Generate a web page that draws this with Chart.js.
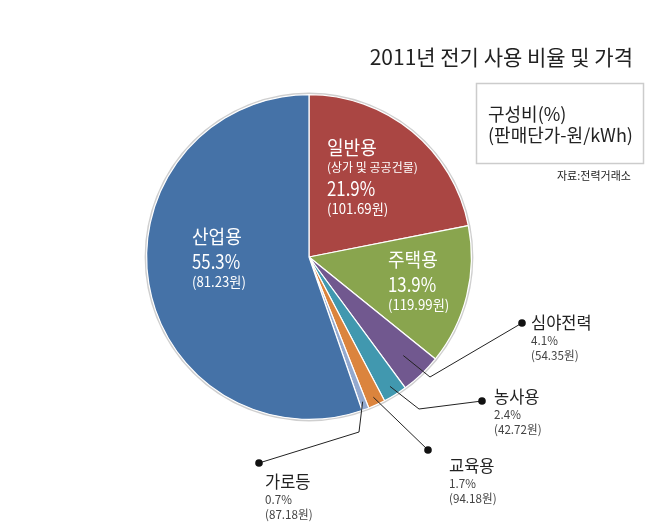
<!DOCTYPE html>
<html>
<head>
<meta charset="utf-8">
<script src="https://cdn.jsdelivr.net/npm/chart.js@4.4.0/dist/chart.umd.min.js"></script>
<style>
    html, body { margin: 0; padding: 0; background: #fff; }
    #wrap { width: 650px; height: 528px; }
</style>
</head>
<body>
<div id="wrap"><canvas id="pie" width="650" height="528"></canvas></div>
<script>
// Data
const categories = ['일반용', '주택용', '심야전력', '농사용', '교육용', '가로등', '산업용'];
const notes = ['(상가 및 공공건물)', '', '', '', '', '', ''];
const shares = [21.9, 13.9, 4.1, 2.4, 1.7, 0.7, 55.3];
const prices = [101.69, 119.99, 54.35, 42.72, 94.18, 87.18, 81.23];
const colors = ['#AA4643', '#89A54E', '#71588F', '#4198AF', '#DB843D', '#93A9CF', '#4572A7'];

const FONT = '"Noto Sans CJK KR", "Noto Sans", sans-serif';

// label layout: inside labels (white) and leader-line labels
const inside = {
    0: { x: 327, y: 148 },
    1: { x: 388, y: 260 },
    6: { x: 192, y: 237 }
};
const outside = {
    2: { dot: [522, 323], elbow: [430, 377], rf: 0.84, tx: 531, ty: 323 },
    3: { dot: [482, 401], elbow: [419, 409], rf: 0.94, tx: 494, ty: 397 },
    4: { dot: [428, 450], elbow: null, rf: 0.95, tx: 449, ty: 466 },
    5: { dot: [259, 463], elbow: [359, 432], rf: 0.95, tx: 265, ty: 482 }
};

function txt(ctx, s, x, y, size, color, sx, align) {
    ctx.save();
    ctx.font = size + 'px ' + FONT;
    ctx.fillStyle = color;
    ctx.textBaseline = 'middle';
    ctx.textAlign = align || 'left';
    ctx.translate(x, y);
    ctx.scale(sx || 1, 1);
    ctx.fillText(s, 0, 0);
    ctx.restore();
}

const labelPlugin = {
    id: 'labels',
    beforeDatasetsDraw(chart) {
        const ctx = chart.ctx;
        const arc = chart.getDatasetMeta(0).data[0];
        // faint grey rim round the pie
        ctx.save();
        ctx.beginPath();
        ctx.arc(arc.x, arc.y, arc.outerRadius + 1, 0, Math.PI * 2);
        ctx.strokeStyle = '#cfcfcf';
        ctx.lineWidth = 2;
        ctx.stroke();
        ctx.restore();
    },
    afterDatasetsDraw(chart) {
        const ctx = chart.ctx;
        const meta = chart.getDatasetMeta(0);

        // inside labels
        Object.keys(inside).forEach(k => {
            const i = +k, p = inside[i];
            let y = p.y;
            txt(ctx, categories[i], p.x, y, 19, '#fff', 0.95);
            if (notes[i]) {
                y += 19;
                txt(ctx, notes[i], p.x, y, 12, '#fff', 1.0);
                y += 21;
            } else {
                y += 24;
            }
            txt(ctx, shares[i].toFixed(1) + '%', p.x, y, 20, '#fff', 0.84);
            txt(ctx, '(' + prices[i].toFixed(2) + '원)', p.x, y + 21, 14, '#fff', 0.94);
        });

        // leader-line labels
        Object.keys(outside).forEach(k => {
            const i = +k, p = outside[i];
            const a = meta.data[i];
            const mid = (a.startAngle + a.endAngle) / 2;
            const sx = a.x + Math.cos(mid) * a.outerRadius * p.rf;
            const sy = a.y + Math.sin(mid) * a.outerRadius * p.rf;
            ctx.save();
            ctx.strokeStyle = '#222';
            ctx.lineWidth = 1;
            ctx.beginPath();
            ctx.moveTo(sx, sy);
            if (p.elbow) ctx.lineTo(p.elbow[0], p.elbow[1]);
            ctx.lineTo(p.dot[0], p.dot[1]);
            ctx.stroke();
            ctx.beginPath();
            ctx.arc(p.dot[0], p.dot[1], 3.8, 0, Math.PI * 2);
            ctx.fillStyle = '#111';
            ctx.fill();
            ctx.restore();

            txt(ctx, categories[i], p.tx, p.ty, 17, '#222', 0.97);
            txt(ctx, shares[i].toFixed(1) + '%', p.tx, p.ty + 17, 12, '#444', 0.97);
            txt(ctx, '(' + prices[i].toFixed(2) + '원)', p.tx, p.ty + 32, 12, '#444', 0.97);
        });

        // title, unit box, source
        txt(ctx, '2011년 전기 사용 비율 및 가격', 633, 57, 21, '#222', 1.0, 'right');
        ctx.save();
        ctx.strokeStyle = '#cccccc';
        ctx.lineWidth = 1.5;
        ctx.strokeRect(476.5, 83.5, 167, 80);
        ctx.restore();
        txt(ctx, '구성비(%)', 488, 114, 18, '#222', 1.0);
        txt(ctx, '(판매단가-원/kWh)', 488, 135, 18, '#222', 1.0);
        txt(ctx, '자료:전력거래소', 557, 176, 11, '#222', 1.0);
    }
};

new Chart(document.getElementById('pie'), {
    type: 'pie',
    data: {
        labels: categories,
        datasets: [{
            data: shares,
            backgroundColor: colors,
            borderColor: '#ffffff',
            borderWidth: 1.2
        }]
    },
    options: {
        responsive: false,
        devicePixelRatio: 1,
        animation: false,
        layout: { padding: { left: 146, right: 178, top: 94, bottom: 108 } },
        plugins: {
            legend: { display: false },
            tooltip: { enabled: false }
        }
    },
    plugins: [labelPlugin]
});
</script>
</body>
</html>
